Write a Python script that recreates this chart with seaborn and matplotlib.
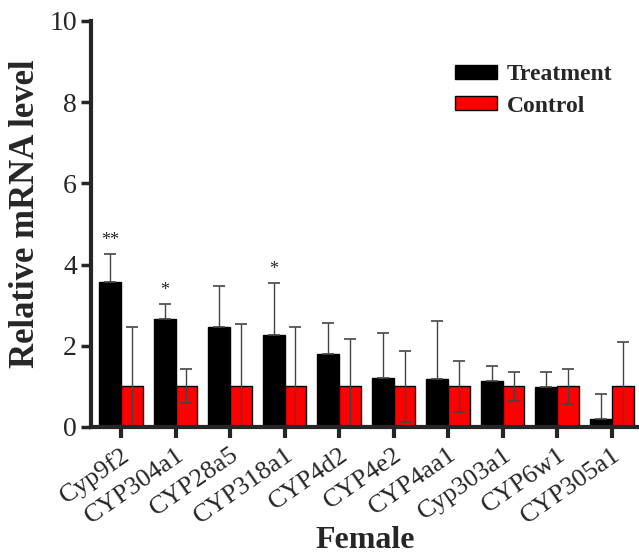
import pandas as pd
import matplotlib
matplotlib.use("Agg")
import matplotlib.pyplot as plt
import seaborn as sns
import numpy as np

# data
genes = ["Cyp9f2", "CYP304a1", "CYP28a5", "CYP318a1", "CYP4d2",
         "CYP4e2", "CYP4aa1", "Cyp303a1", "CYP6w1", "CYP305a1"]
treatment = [3.56, 2.66, 2.46, 2.26, 1.80, 1.21, 1.19, 1.14, 0.99, 0.19]
treatment_err = [0.70, 0.36, 1.02, 1.29, 0.75, 1.10, 1.42, 0.36, 0.36, 0.63]
control = [1.0, 1.0, 1.0, 1.0, 1.0, 1.0, 1.0, 1.0, 1.0, 1.0]
control_err = [1.46, 0.42, 1.53, 1.46, 1.17, 0.87, 0.62, 0.35, 0.43, 1.10]
signif = ["**", "*", "", "*", "", "", "", "", "", ""]

df = pd.DataFrame({
    "Gene": genes * 2,
    "Value": treatment + control,
    "Group": ["Treatment"] * len(genes) + ["Control"] * len(genes),
})

sns.set_style("ticks")
plt.rcParams["font.family"] = ["Liberation Serif", "DejaVu Serif"]

fig = plt.figure(figsize=(6.39, 5.58), dpi=100)
ax = fig.add_axes([0.1424, 0.2348, 0.8576, 0.7276])

sns.barplot(data=df, x="Gene", y="Value", hue="Group", order=genes,
            hue_order=["Treatment", "Control"],
            palette={"Treatment": "black", "Control": "#ff0000"},
            saturation=1, edgecolor="black", linewidth=1, width=0.8,
            errorbar=None, ax=ax)

# error bars (treatment lower half hidden behind black bar anyway)
t_x = [b.get_x() + b.get_width() / 2 for b in ax.containers[0]]
c_x = [b.get_x() + b.get_width() / 2 for b in ax.containers[1]]
ax.errorbar(t_x, treatment, yerr=[np.zeros(len(genes)), treatment_err],
            fmt="none", ecolor="#444444", elinewidth=1, capsize=4, capthick=1.2)
ax.errorbar(c_x, control, yerr=control_err,
            fmt="none", ecolor="#444444", elinewidth=1, capsize=4, capthick=1.2)

# significance stars
for x, v, e, s in zip(t_x, treatment, treatment_err, signif):
    if s:
        ax.text(x, v + e + 0.12, s, ha="center", va="bottom", fontsize=13)

ax.set_ylim(0, 10)
ax.set_xlim(-0.55, 9.5)
ax.set_yticks([0, 2, 4, 6, 8, 10])
ax.set_ylabel("Relative mRNA level", fontsize=25, fontweight="bold")
ax.set_xlabel("Female", fontsize=23, fontweight="bold")
ax.yaxis.set_label_coords(-0.09, 0.525)
ax.xaxis.set_label_coords(0.5, -0.245)

for lab in ax.get_xticklabels():
    lab.set_rotation(35)
    lab.set_ha("right")
    lab.set_rotation_mode("anchor")
ax.tick_params(axis="x", labelsize=19, length=8, width=3, direction="out", pad=4)
ax.tick_params(axis="y", labelsize=20, length=7, width=2.5, direction="out", pad=3)

sns.despine(ax=ax)
for sp in ["left", "bottom"]:
    ax.spines[sp].set_linewidth(3)

leg = ax.legend(loc="upper left", bbox_to_anchor=(455 / 639, 1 - 64 / 558),
                bbox_transform=fig.transFigure, frameon=False,
                prop={"weight": "bold", "size": 17}, handlelength=1.8,
                handleheight=0.55, handletextpad=0.4, labelspacing=0.45,
                borderpad=0, borderaxespad=0)

fig.savefig("out.png", dpi=100)
